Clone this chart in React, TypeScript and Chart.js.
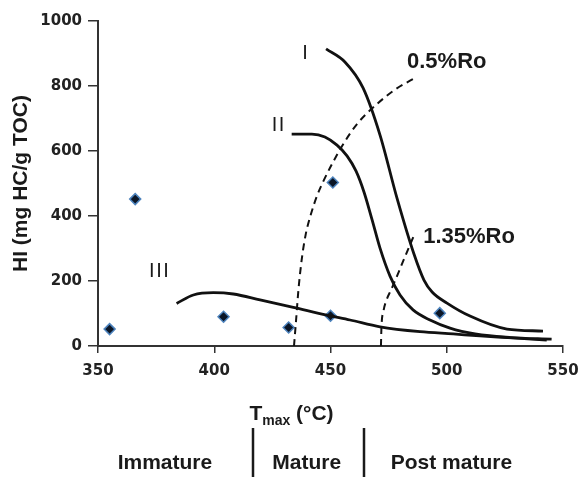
import { useEffect, useRef } from "react";
import { Chart, registerables } from "chart.js";

Chart.register(...registerables);

// Samples (Tmax °C, HI mg HC/g TOC)
const sampleTmax = [355, 366, 404, 432, 450, 451, 497];
const sampleHI = [52, 452, 90, 57, 93, 503, 101];

// Kerogen type I curve
const typeITmax = [448.1, 456.2, 464, 471.3, 478.6, 485.9, 490.2, 493.7, 500.1, 510, 525.9, 541.4];
const typeIHI = [914, 874, 794, 649, 455, 283, 203, 166, 132, 92, 52, 46];

// Kerogen type II curve
const typeIITmax = [433.3, 442, 447.6, 452.8, 457.1, 461, 464.4, 467.9, 471.3, 475.6, 479.9, 485.5, 492.8, 501.4, 512.2, 527.2, 545.1];
const typeIIHI = [652, 652, 643, 618, 585, 538, 474, 388, 301, 215, 157, 111, 80, 55, 37, 26, 21];

// Kerogen type III curve
const typeIIITmax = [383.8, 391, 399.6, 408.2, 419.7, 434, 448.4, 458.4, 471.3, 488.5, 502.8, 514.3, 528.5, 543];
const typeIIIHI = [131, 157, 164, 160, 142, 119, 95, 80, 59, 44, 37, 31, 25, 18];

// Vitrinite reflectance iso-lines
const ro05Tmax = [434.3, 435.2, 436.2, 437.6, 439.3, 441.6, 444.2, 447.2, 451.1, 455.8, 461.4, 469.6, 478.2, 487.2];
const ro05HI = [0, 80, 172, 265, 342, 406, 462, 511, 566, 625, 683, 742, 791, 828];
const ro135Tmax = [471.7, 471.9, 472.8, 474.3, 476, 478.6, 482, 485.6];
const ro135HI = [0, 55, 108, 145, 172, 215, 274, 335];

// Axis ticks
const xTicks = [350, 400, 450, 500, 550];
const yTicks = [0, 200, 400, 600, 800, 1000];

// In-plot labels (anchored in data units)
const curveLabels = ["I", "II", "III"];
const curveLabelTmax = [439, 427.4, 376.2];
const curveLabelHI = [901, 680, 229];
const roLabels = ["0.5%Ro", "1.35%Ro"];
const roLabelTmax = [500, 509.6];
const roLabelHI = [875, 336];

// Maturity zones under the axis (Tmax units)
const stageNames = ["Immature", "Mature", "Post mature"];
const stageCenters = [378.8, 439.8, 502];
const stageBounds = [416.7, 464.4];

const pts = (xs: number[], ys: number[]) => xs.map((x, i) => ({ x, y: ys[i] }));

const SANS = "'Liberation Sans', Arial, Helvetica, sans-serif";
const TICKFONT = "'DejaVu Sans', Verdana, sans-serif";
const INK = "#1a1a1a";

const overlayPlugin = {
  id: "overlay",
  afterDraw(chart: any) {
    const { ctx } = chart;
    const xs = chart.scales.x;
    const ys = chart.scales.y;
    ctx.save();
    ctx.fillStyle = INK;
    ctx.textBaseline = "middle";
    ctx.textAlign = "center";

    // curve labels I, II, III
    ctx.font = `20px ${SANS}`;
    try { (ctx as any).letterSpacing = "1.5px"; } catch (e) {}
    curveLabels.forEach((t, i) => {
      ctx.fillText(t, xs.getPixelForValue(curveLabelTmax[i]) + 0.75, ys.getPixelForValue(curveLabelHI[i]));
    });
    try { (ctx as any).letterSpacing = "0px"; } catch (e) {}

    // Ro labels
    ctx.font = `bold 22px ${SANS}`;
    roLabels.forEach((t, i) => {
      ctx.fillText(t, xs.getPixelForValue(roLabelTmax[i]), ys.getPixelForValue(roLabelHI[i]));
    });

    // x-axis title with subscript
    ctx.textBaseline = "alphabetic";
    ctx.textAlign = "left";
    const big = `bold 21px ${SANS}`;
    const small = `bold 14px ${SANS}`;
    ctx.font = big;
    const wT = ctx.measureText("T").width;
    const wRest = ctx.measureText(" (°C)").width;
    ctx.font = small;
    const wSub = ctx.measureText("max").width;
    const total = wT + wSub + wRest;
    const x0 = 291.5 - total / 2;
    const base = 420;
    ctx.font = big;
    ctx.fillText("T", x0, base);
    ctx.font = small;
    ctx.fillText("max", x0 + wT, base + 5);
    ctx.font = big;
    ctx.fillText(" (°C)", x0 + wT + wSub, base);

    // maturity zones
    ctx.textAlign = "center";
    ctx.font = `bold 21px ${SANS}`;
    stageNames.forEach((t, i) => {
      ctx.fillText(t, xs.getPixelForValue(stageCenters[i]), 469);
    });
    ctx.strokeStyle = INK;
    ctx.lineWidth = 2.5;
    stageBounds.forEach((b) => {
      const px = Math.round(xs.getPixelForValue(b));
      ctx.beginPath();
      ctx.moveTo(px, 428);
      ctx.lineTo(px, 477);
      ctx.stroke();
    });
    ctx.restore();
  },
};

const curveStyle = {
  showLine: true,
  borderColor: "#111",
  borderWidth: 2.8,
  pointRadius: 0,
  pointHoverRadius: 0,
  cubicInterpolationMode: "monotone" as const,
  fill: false,
};

const dashStyle = {
  ...curveStyle,
  borderWidth: 2,
  borderDash: [7, 5],
};

export default function App() {
  const ref = useRef<HTMLCanvasElement | null>(null);

  useEffect(() => {
    if (!ref.current) return;
    const tickFont = { family: TICKFONT, size: 15, weight: "bold" as const };
    const chart = new Chart(ref.current, {
      type: "scatter",
      data: {
        datasets: [
          { label: "I", data: pts(typeITmax, typeIHI), ...curveStyle },
          { label: "II", data: pts(typeIITmax, typeIIHI), ...curveStyle },
          { label: "III", data: pts(typeIIITmax, typeIIIHI), ...curveStyle },
          { label: "0.5%Ro", data: pts(ro05Tmax, ro05HI), ...dashStyle },
          { label: "1.35%Ro", data: pts(ro135Tmax, ro135HI), ...dashStyle },
          {
            label: "Samples",
            data: pts(sampleTmax, sampleHI),
            showLine: false,
            pointStyle: "rectRot",
            pointRadius: 5.5,
            pointBackgroundColor: "#0b1626",
            pointBorderColor: "#4d83bd",
            pointBorderWidth: 1.5,
          },
        ],
      },
      options: {
        responsive: false,
        animation: false,
        events: [],
        layout: { autoPadding: false, padding: { top: 21, right: 19, left: 0, bottom: 0 } },
        plugins: { legend: { display: false }, tooltip: { enabled: false }, title: { display: false } },
        scales: {
          x: {
            type: "linear",
            min: 350,
            max: 550,
            afterBuildTicks: (s: any) => { s.ticks = xTicks.map((v) => ({ value: v })); },
            afterFit: (s: any) => { s.height = 131; s.paddingLeft = 0; s.paddingRight = 0; },
            ticks: { font: tickFont, color: "#222", padding: 9, maxRotation: 0, callback: (v: any) => String(v) },
            grid: { drawOnChartArea: false, drawTicks: true, tickLength: 7, color: "#333", lineWidth: 1.5 },
            border: { display: true, color: "#333", width: 2 },
          },
          y: {
            type: "linear",
            min: 0,
            max: 1000,
            afterBuildTicks: (s: any) => { s.ticks = yTicks.map((v) => ({ value: v })); },
            afterFit: (s: any) => { s.width = 98; s.paddingTop = 0; s.paddingBottom = 0; },
            ticks: { font: tickFont, color: "#222", padding: 6, callback: (v: any) => String(v) },
            grid: { drawOnChartArea: false, drawTicks: true, tickLength: 10, color: "#333", lineWidth: 1.5 },
            border: { display: true, color: "#333", width: 2 },
            title: {
              display: true,
              text: "HI (mg HC/g TOC)",
              color: INK,
              font: { family: SANS, size: 21, weight: "bold" },
              padding: { top: 9, bottom: 0 },
            },
          },
        },
      },
      plugins: [overlayPlugin],
    });
    return () => chart.destroy();
  }, []);

  return (
    <div style={{ position: "absolute", left: 0, top: 0, width: 582, height: 477, background: "#fff" }}>
      <canvas ref={ref} width={582} height={477} style={{ display: "block" }} />
    </div>
  );
}
